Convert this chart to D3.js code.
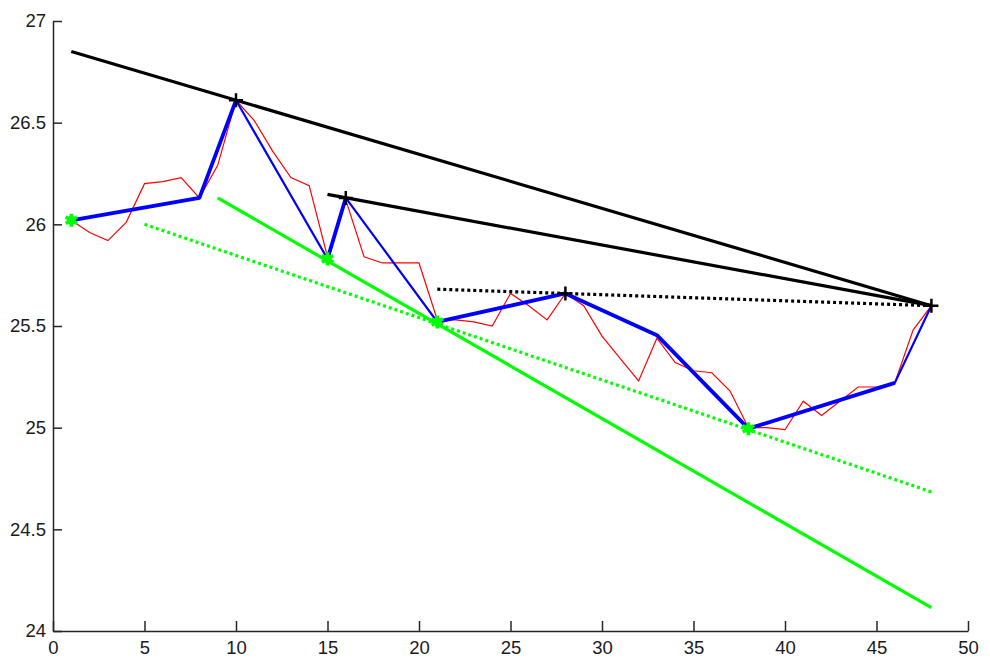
<!DOCTYPE html>
<html>
<head>
<meta charset="utf-8">
<script src="https://cdn.jsdelivr.net/npm/d3@7"></script>
<style>
    body { margin: 0; background: #fff; }
    svg { display: block; }
    .axis text { font-family: "Liberation Sans", Arial, sans-serif; font-size: 18.5px; fill: #1a1a1a; }
    .axis path, .axis line { stroke: #262626; stroke-width: 1.5; }
</style>
</head>
<body>
<svg id="chart" width="990" height="669"></svg>
<script>
// raw series (red), index 1..48
var rawX = d3.range(1, 49);
var rawY = [26.02, 25.96, 25.92, 26.01, 26.20, 26.21, 26.23, 26.13, 26.29, 26.61,
            26.51, 26.36, 26.23, 26.19, 25.84, 26.12, 25.84, 25.81, 25.81, 25.81,
            25.53, 25.53, 25.52, 25.50, 25.66, 25.60, 25.53, 25.66, 25.60, 25.45,
            25.34, 25.23, 25.44, 25.32, 25.28, 25.27, 25.18, 25.00, 25.00, 24.99,
            25.13, 25.06, 25.13, 25.20, 25.20, 25.22, 25.48, 25.60];

// pivot points (blue zigzag)
var pivotX = [1, 8, 10, 15, 16, 21, 28, 33, 38, 46, 48];
var pivotY = [26.02, 26.13, 26.61, 25.83, 26.13, 25.52, 25.66, 25.455, 24.995, 25.22, 25.60];

// thick parts of the zigzag, as runs of pivot indexes
var thickRuns = [[0, 1, 2], [3, 4], [5, 6, 7, 8, 9]];

// highs (black +) and lows (green *)
var highX = [10, 16, 28, 48];
var highY = [26.61, 26.13, 25.66, 25.60];
var lowX = [1, 15, 21, 38];
var lowY = [26.02, 25.83, 25.52, 24.995];

// trend lines: [x0, y0, x1, y1]
var resistLines = [[1, 26.85, 48, 25.60], [15, 26.147, 48, 25.60]];
var resistDotted = [[21, 25.681, 48, 25.60]];
var supportLines = [[9, 26.13, 48, 24.115]];
var supportDotted = [[5, 26.0, 48, 24.684]];

var xTicks = [0, 5, 10, 15, 20, 25, 30, 35, 40, 45, 50];
var yTicks = [24, 24.5, 25, 25.5, 26, 26.5, 27];

var svg = d3.select("#chart");
var x = d3.scaleLinear().domain([0, 50]).range([53, 968]);
var y = d3.scaleLinear().domain([24, 27]).range([631, 21]);

// axes, ticks pointing inward like matlab
svg.append("g").attr("class", "axis")
    .attr("transform", "translate(0,631)")
    .call(d3.axisBottom(x).tickValues(xTicks).tickSizeInner(-10).tickSizeOuter(0).tickPadding(10).tickFormat(d3.format("")));
svg.append("g").attr("class", "axis")
    .attr("transform", "translate(53,0)")
    .call(d3.axisLeft(y).tickValues(yTicks).tickSizeInner(-9).tickSizeOuter(0).tickPadding(7).tickFormat(d3.format("")));

var line = d3.line().x(function (d) { return x(d[0]); }).y(function (d) { return y(d[1]); });

// red raw data
svg.append("path")
    .datum(d3.zip(rawX, rawY))
    .attr("d", line).attr("fill", "none").attr("stroke", "#ff0000").attr("stroke-width", 1.2);

// blue zigzag, thin through all then thick runs
var pivots = d3.zip(pivotX, pivotY);
svg.append("path")
    .datum(pivots)
    .attr("d", line).attr("fill", "none").attr("stroke", "#0000ff").attr("stroke-width", 2.2);
thickRuns.forEach(function (run) {
    svg.append("path")
        .datum(run.map(function (i) { return pivots[i]; }))
        .attr("d", line).attr("fill", "none").attr("stroke", "#0000ff").attr("stroke-width", 3.8)
        .attr("stroke-linejoin", "round");
});

// trend lines
function trend(list, color, dotted) {
    list.forEach(function (t) {
        svg.append("path")
            .datum([[t[0], t[1]], [t[2], t[3]]])
            .attr("d", line).attr("fill", "none").attr("stroke", color).attr("stroke-width", 3.2)
            .attr("stroke-dasharray", dotted ? "3,3" : null);
    });
}
trend(resistLines, "#000000", false);
trend(resistDotted, "#000000", true);
trend(supportLines, "#00ff00", false);
trend(supportDotted, "#00ff00", true);

// markers
d3.zip(highX, highY).forEach(function (p) {
    var cx = x(p[0]), cy = y(p[1]);
    svg.append("path")
        .attr("d", "M" + (cx - 7) + "," + cy + "H" + (cx + 7) + "M" + cx + "," + (cy - 7) + "V" + (cy + 7))
        .attr("stroke", "#000").attr("stroke-width", 2.5);
});
d3.zip(lowX, lowY).forEach(function (p) {
    var cx = x(p[0]), cy = y(p[1]);
    svg.append("path")
        .attr("d", d3.symbol().type(d3.symbolAsterisk).size(120)())
        .attr("transform", "translate(" + cx + "," + cy + ")")
        .attr("stroke", "#00ff00").attr("stroke-width", 3.5);
    svg.append("circle").attr("cx", cx).attr("cy", cy).attr("r", 4.5).attr("fill", "#00ff00");
});
</script>
</body>
</html>
